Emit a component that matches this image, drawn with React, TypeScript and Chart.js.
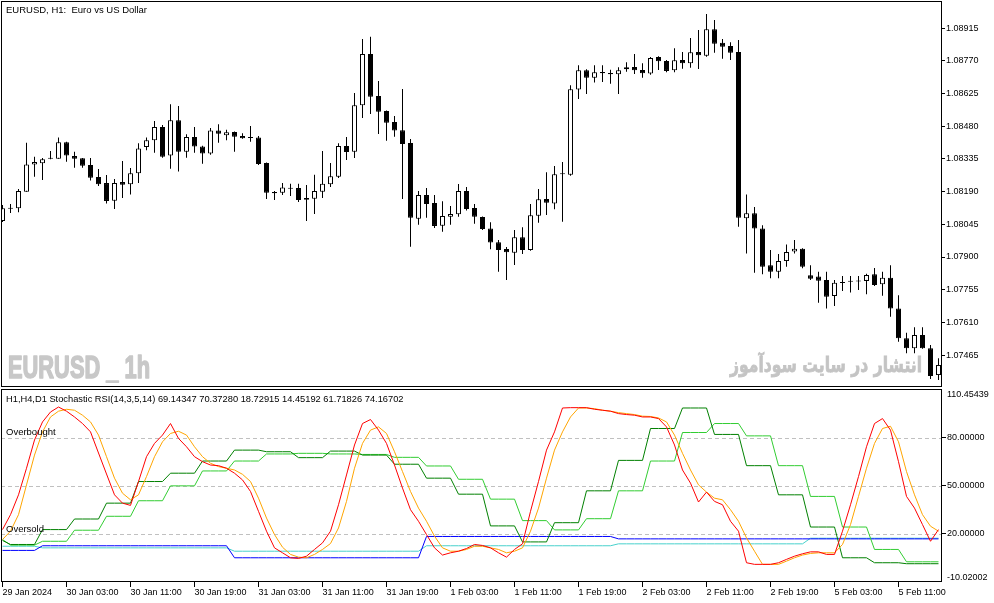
import { useEffect, useRef } from "react";
import { Chart, registerables } from "chart.js";

Chart.register(...registerables);

const FONT = "'Liberation Sans', Arial, sans-serif";
const FONT_SIZE = 9;
const TITLE_SIZE = 9.5;
const IND_TITLE_SIZE = 9.3;

const symbolTitle = "EURUSD, H1:  Euro vs US Dollar";
const indicatorTitle =
  "H1,H4,D1 Stochastic RSI(14,3,5,14) 69.14347 70.37280 18.72915 14.45192 61.71826 74.16702";
const watermarkLatin = "EURUSD _ 1h";
const watermarkPersian = "انتشار در سایت سودآموز";
const levelNames = ["Overbought", "Oversold"];

// time axis (candle index of each label)
const timeTickIndex = [0, 8, 16, 24, 32, 40, 48, 56, 64, 72, 80, 88, 96, 104, 112];
const timeTickLabels = [
  "29 Jan 2024", "30 Jan 03:00", "30 Jan 11:00", "30 Jan 19:00", "31 Jan 03:00",
  "31 Jan 11:00", "31 Jan 19:00", "1 Feb 03:00", "1 Feb 11:00", "1 Feb 19:00",
  "2 Feb 03:00", "2 Feb 11:00", "2 Feb 19:00", "5 Feb 03:00", "5 Feb 11:00",
];

// price axis
const priceTicks = [1.07465, 1.0761, 1.07755, 1.079, 1.08045, 1.0819, 1.08335, 1.0848, 1.08625, 1.0877, 1.08915];
const priceMin = 1.073231;
const priceMax = 1.090362;

// EURUSD H1 candles (29 Jan 19:00 .. 5 Feb 16:00)
const opens = [
  1.0806, 1.08116, 1.08116, 1.0819, 1.08311, 1.08316, 1.08338, 1.08336, 1.08409, 1.08348,
  1.08338, 1.08308, 1.08255, 1.08228, 1.0815, 1.08233, 1.08223, 1.08272, 1.08388, 1.08418,
  1.08477, 1.08351, 1.08507, 1.08367, 1.08433, 1.08391, 1.08359, 1.08462, 1.0844, 1.08455,
  1.08437, 1.08433, 1.0843, 1.08317, 1.08189, 1.08185, 1.08205, 1.08206, 1.08162, 1.08159,
  1.0819, 1.08223, 1.08256, 1.08393, 1.08367, 1.08573, 1.08801, 1.08615, 1.08548, 1.08499,
  1.08463, 1.08406, 1.0807, 1.08175, 1.0814, 1.08039, 1.08079, 1.0809, 1.08193, 1.08118,
  1.08078, 1.08027, 1.07965, 1.07936, 1.07919, 1.07988, 1.07931, 1.08083, 1.08157, 1.08137,
  1.08269, 1.08265, 1.08643, 1.08729, 1.08696, 1.08721, 1.08717, 1.08711, 1.08733, 1.08743,
  1.0873, 1.08714, 1.08788, 1.0877, 1.08729, 1.08774, 1.0876, 1.0881, 1.08793, 1.08911,
  1.08851, 1.08836, 1.0881, 1.08072, 1.08094, 1.08026, 1.07863, 1.07835, 1.07882, 1.07925,
  1.07937, 1.07819, 1.07813, 1.07798, 1.07727, 1.07787, 1.07792, 1.07793, 1.07794, 1.07823,
  1.07779, 1.07808, 1.07672, 1.07539, 1.07495, 1.07554, 1.07495, 1.07376,
];
const highs = [
  1.08131, 1.08135, 1.08202, 1.08407, 1.08345, 1.08339, 1.08371, 1.0843, 1.08412, 1.08367,
  1.08339, 1.08339, 1.08291, 1.08264, 1.08246, 1.08326, 1.08295, 1.08405, 1.0843, 1.08504,
  1.08486, 1.08578, 1.0857, 1.08445, 1.08477, 1.08394, 1.08473, 1.08489, 1.08465, 1.08457,
  1.08449, 1.08481, 1.08437, 1.08319, 1.08193, 1.08228, 1.08225, 1.08225, 1.0822, 1.08265,
  1.08371, 1.08317, 1.08405, 1.08433, 1.08628, 1.08868, 1.08878, 1.08681, 1.0855, 1.08526,
  1.08646, 1.08424, 1.08193, 1.08206, 1.08175, 1.08148, 1.08126, 1.08224, 1.08211, 1.08135,
  1.0808, 1.08054, 1.07975, 1.07944, 1.0802, 1.08032, 1.08135, 1.08202, 1.08276, 1.08304,
  1.08322, 1.08662, 1.08751, 1.08733, 1.08751, 1.08751, 1.08731, 1.08742, 1.08764, 1.08801,
  1.0876, 1.08788, 1.08791, 1.08774, 1.08826, 1.0881, 1.08872, 1.08908, 1.08979, 1.08952,
  1.08868, 1.08853, 1.08863, 1.08177, 1.08122, 1.08041, 1.07931, 1.07913, 1.07956, 1.07975,
  1.07939, 1.07863, 1.07835, 1.07835, 1.07798, 1.07816, 1.07816, 1.07816, 1.07826, 1.07851,
  1.07835, 1.07863, 1.0773, 1.07564, 1.07588, 1.07588, 1.0751, 1.07451,
];
const lows = [
  1.08055, 1.08095, 1.08099, 1.0819, 1.08256, 1.08242, 1.08334, 1.08336, 1.08323, 1.08296,
  1.08296, 1.0824, 1.08215, 1.08137, 1.08113, 1.08162, 1.08177, 1.08228, 1.08374, 1.08363,
  1.08341, 1.08292, 1.08279, 1.08341, 1.08363, 1.08314, 1.08354, 1.08407, 1.08418, 1.08367,
  1.08425, 1.08412, 1.08308, 1.08157, 1.08153, 1.08175, 1.08171, 1.08144, 1.0806, 1.08091,
  1.08162, 1.08211, 1.08251, 1.08331, 1.08339, 1.08517, 1.08535, 1.08446, 1.08416, 1.08434,
  1.08157, 1.07946, 1.08043, 1.08074, 1.08029, 1.08012, 1.08043, 1.08079, 1.08106, 1.08048,
  1.0802, 1.07934, 1.07835, 1.07798, 1.07865, 1.07913, 1.07928, 1.08052, 1.08086, 1.08112,
  1.08057, 1.08261, 1.08601, 1.08623, 1.08674, 1.08677, 1.08669, 1.08623, 1.08722, 1.08712,
  1.08696, 1.08709, 1.0873, 1.0872, 1.0872, 1.08736, 1.0874, 1.08734, 1.08789, 1.08807,
  1.0878, 1.08774, 1.08034, 1.07916, 1.0783, 1.07823, 1.07806, 1.07806, 1.07857, 1.07916,
  1.0785, 1.07798, 1.07697, 1.07672, 1.07683, 1.07749, 1.07742, 1.07754, 1.07735, 1.07771,
  1.07728, 1.07635, 1.07524, 1.07473, 1.07473, 1.07493, 1.07359, 1.07354,
];
const closes = [
  1.08116, 1.08114, 1.08193, 1.08311, 1.08322, 1.08334, 1.08336, 1.08409, 1.08351, 1.08336,
  1.08305, 1.08252, 1.08223, 1.08149, 1.08228, 1.08221, 1.08272, 1.08382, 1.08418, 1.08477,
  1.08345, 1.08507, 1.08367, 1.08433, 1.08391, 1.08359, 1.08462, 1.08447, 1.08454, 1.08434,
  1.08427, 1.08428, 1.08313, 1.08185, 1.08183, 1.08209, 1.08203, 1.08153, 1.08154, 1.08193,
  1.08225, 1.08258, 1.08393, 1.08366, 1.08573, 1.08801, 1.08611, 1.08545, 1.08496, 1.08461,
  1.08402, 1.08074, 1.08175, 1.08135, 1.08038, 1.08082, 1.08091, 1.08193, 1.08113, 1.08079,
  1.08024, 1.07964, 1.07931, 1.07921, 1.07988, 1.07931, 1.08085, 1.08156, 1.08141, 1.08267,
  1.08267, 1.08644, 1.08729, 1.08696, 1.0872, 1.08715, 1.08711, 1.08729, 1.08742, 1.08729,
  1.08715, 1.08783, 1.08769, 1.08726, 1.08773, 1.0876, 1.08809, 1.08795, 1.08911, 1.08847,
  1.08833, 1.08807, 1.08074, 1.08094, 1.08026, 1.07857, 1.07835, 1.07882, 1.07922, 1.07937,
  1.07857, 1.07804, 1.07795, 1.07724, 1.07786, 1.07785, 1.0779, 1.07791, 1.0782, 1.07776,
  1.07808, 1.07672, 1.07539, 1.07495, 1.07554, 1.07495, 1.07372, 1.07421,
];

// Stochastic RSI panel
const stochMin = -10.02002;
const stochMax = 110.45439;
const stochLevels = [80, 50, 20];

const h1K = [
  22.7, 32, 44.4, 61, 78.6, 89.9, 96.1, 99.2, 96.6, 93,
  88.9, 83.7, 70.5, 57.4, 44.4, 39.2, 37.8, 52.7, 68.2, 76.5,
  81.7, 88.9, 79.6, 74.4, 68.2, 65.1, 63, 62.6, 61, 57.9,
  53.7, 46.5, 34.1, 21.7, 11.3, 8.2, 5.1, 4.7, 6.1, 10.3,
  14.4, 21.7, 38.2, 56.8, 75.5, 88.9, 91.4, 84.8, 76.5, 63,
  48.6, 35.1, 27.9, 19.6, 11.3, 6.8, 8.2, 9.2, 10.9, 13.4,
  12.8, 11.3, 8.2, 5.5, 10.3, 13.8, 34.1, 52.7, 72.3, 83.7,
  98.6, 98.8, 98.8, 98.8, 97.8, 97.2, 96.6, 95.1, 94.5, 94.1,
  93, 93, 92, 86.8, 75.5, 59.9, 51.7, 39.9, 46.1, 40.3,
  38.2, 27.9, 21.7, 2, 1, 1, 1, 2, 4.1, 6.1,
  7.6, 8.8, 8.8, 7.2, 7.2, 21.7, 38.2, 55.8, 74.4, 88.9,
  92, 84.8, 65.1, 43.4, 36.1, 25.8, 15.4, 22.7,
];
const h1D = [
  16.5, 21.7, 32, 50.6, 69.2, 83.7, 93, 96.6, 97.8, 97.2,
  94.1, 89.9, 81.7, 68.2, 54.8, 45.4, 41.3, 44.4, 55.8, 68.2,
  77.5, 82.7, 84.1, 81.7, 74.4, 68.2, 64.1, 62, 61, 59.9,
  57.2, 52.7, 42.3, 29.9, 19.6, 11.7, 7.2, 5.5, 5.1, 7.2,
  10.3, 14, 23.7, 40.3, 61, 76.5, 84.8, 86.8, 82.7, 71.3,
  58.9, 46.5, 36.1, 27.9, 18.6, 11.3, 9.2, 9.2, 10.3, 12.3,
  12.3, 11.3, 10.3, 8.2, 9.2, 11.3, 21.7, 36.1, 54.8, 72.3,
  83.7, 93, 98.6, 98.6, 98.2, 97.2, 96.6, 95.7, 95.1, 94.5,
  93.5, 93.3, 92.4, 89.9, 81.7, 70.3, 59.9, 50.6, 46.1, 42.3,
  41.3, 35.1, 27.9, 17.5, 9.2, 1, 1, 1, 3, 5.1,
  6.8, 7.8, 8.2, 8.2, 8.2, 13.4, 25.8, 43.4, 61, 76.5,
  85.8, 87.2, 77.5, 58.9, 44.4, 32, 24.8, 21.7,
];
const h4K = [
  15.9,
  13.4, 13.4, 13.4, 13.4, 22.7, 22.7, 22.7, 22.7, 29.3, 29.3, 29.3, 29.3,
  39.2, 39.2, 39.2, 39.2, 52.7, 52.7, 52.7, 52.7, 57.9, 57.9, 57.9, 57.9,
  65.5, 65.5, 65.5, 65.5, 72.3, 72.3, 72.3, 72.3, 71.3, 71.3, 71.3, 71.3,
  67.6, 67.6, 67.6, 67.6, 71.7, 71.7, 71.7, 71.7, 69.2, 69.2, 69.2, 69.2,
  63.5, 63.5, 63.5, 63.5, 54.8, 54.8, 54.8, 54.8, 44.8, 44.8, 44.8, 44.8,
  25, 25, 25, 25, 15, 15, 15, 15, 27, 27, 27, 27,
  46.9, 46.9, 46.9, 46.9, 65.9, 65.9, 65.9, 65.9, 85.8, 85.8, 85.8, 85.8,
  98.6, 98.6, 98.6, 98.6, 82.1, 82.1, 82.1, 82.1, 62.6, 62.6, 62.6, 62.6,
  44.4, 44.4, 44.4, 44.4, 24.3, 24.3, 24.3, 24.3, 5.1, 5.1, 5.1, 5.1,
  2, 2, 2, 2,
  1.4, 1.4, 1.4, 1.4, 1.4,
];
const h4D = [
  16.5,
  13, 13, 13, 13, 15.4, 15.4, 15.4, 15.4, 22.3, 22.3, 22.3, 22.3,
  31, 31, 31, 31, 40.7, 40.7, 40.7, 40.7, 50, 50, 50, 50,
  59.3, 59.3, 59.3, 59.3, 65.5, 65.5, 65.5, 65.5, 69.9, 69.9, 69.9, 69.9,
  70.3, 70.3, 70.3, 70.3, 69.9, 69.9, 69.9, 69.9, 69.6, 69.6, 69.6, 69.6,
  67.8, 67.8, 67.8, 67.8, 62.4, 62.4, 62.4, 62.4, 54.1, 54.1, 54.1, 54.1,
  41.7, 41.7, 41.7, 41.7, 28.3, 28.3, 28.3, 28.3, 22.5, 22.5, 22.5, 22.5,
  29.5, 29.5, 29.5, 29.5, 46.9, 46.9, 46.9, 46.9, 65.5, 65.5, 65.5, 65.5,
  83.3, 83.3, 83.3, 83.3, 88.9, 88.9, 88.9, 88.9, 81.2, 81.2, 81.2, 81.2,
  62.6, 62.6, 62.6, 62.6, 43.4, 43.4, 43.4, 43.4, 24.3, 24.3, 24.3, 24.3,
  10.3, 10.3, 10.3, 10.3,
  2.6, 2.6, 2.6, 2.6, 2.6,
];
const d1K = [
  9.7, 9.7, 9.7, 9.7, 9.7,
  12.6, 12.6, 12.6, 12.6, 12.6, 12.6, 12.6, 12.6, 12.6, 12.6, 12.6, 12.6,
  12.6, 12.6, 12.6, 12.6, 12.6, 12.6, 12.6, 12.6, 12.6, 12.6, 12.6, 12.6,
  5.1, 5.1, 5.1, 5.1, 5.1, 5.1, 5.1, 5.1, 5.1, 5.1, 5.1, 5.1,
  5.1, 5.1, 5.1, 5.1, 5.1, 5.1, 5.1, 5.1, 5.1, 5.1, 5.1, 5.1,
  18.4, 18.4, 18.4, 18.4, 18.4, 18.4, 18.4, 18.4, 18.4, 18.4, 18.4, 18.4,
  18.4, 18.4, 18.4, 18.4, 18.4, 18.4, 18.4, 18.4, 18.4, 18.4, 18.4, 18.4,
  16.9, 16.9, 16.9, 16.9, 16.9, 16.9, 16.9, 16.9, 16.9, 16.9, 16.9, 16.9,
  16.9, 16.9, 16.9, 16.9, 16.9, 16.9, 16.9, 16.9, 16.9, 16.9, 16.9, 16.9,
  16.9, 16.9, 16.9, 16.9, 16.9, 16.9, 16.9, 16.9, 16.9,
  16.9, 16.9, 16.9, 16.9, 16.9, 16.9, 16.9, 16.9,
];
const d1D = [
  12.3, 12.3, 12.3, 12.3, 12.3,
  11.3, 11.3, 11.3, 11.3, 11.3, 11.3, 11.3, 11.3, 11.3, 11.3, 11.3, 11.3,
  11.3, 11.3, 11.3, 11.3, 11.3, 11.3, 11.3, 11.3, 11.3, 11.3, 11.3, 11.3,
  9.2, 9.2, 9.2, 9.2, 9.2, 9.2, 9.2, 9.2, 9.2, 9.2, 9.2, 9.2,
  9.2, 9.2, 9.2, 9.2, 9.2, 9.2, 9.2, 9.2, 9.2, 9.2, 9.2, 9.2,
  12.6, 12.6, 12.6, 12.6, 12.6, 12.6, 12.6, 12.6, 12.6, 12.6, 12.6, 12.6,
  12.6, 12.6, 12.6, 12.6, 12.6, 12.6, 12.6, 12.6, 12.6, 12.6, 12.6, 12.6,
  13.8, 13.8, 13.8, 13.8, 13.8, 13.8, 13.8, 13.8, 13.8, 13.8, 13.8, 13.8,
  13.8, 13.8, 13.8, 13.8, 13.8, 13.8, 13.8, 13.8, 13.8, 13.8, 13.8, 13.8,
  17.3, 17.3, 17.3, 17.3, 17.3, 17.3, 17.3, 17.3, 17.3,
  17.3, 17.3, 17.3, 17.3, 17.3, 17.3, 17.3, 17.3,
];

// ---------- layout ----------
const W = 994;
const MAIN_H = 388;
const SUB_H = 215;
const AXIS_W = 52;
const X_MIN = -0.1875;
const X_MAX = 117.4375;
const font = { family: FONT, size: FONT_SIZE };
const titleFont = `${TITLE_SIZE}px ${FONT}`;
const indTitleFont = `${IND_TITLE_SIZE}px ${FONT}`;

const noPad = (s: any) => {
  s.paddingTop = 0;
  s.paddingBottom = 0;
  s.paddingLeft = 0;
  s.paddingRight = 0;
};

const framePlugin = {
  id: "frame",
  afterDraw(chart: any) {
    const { ctx, chartArea: a } = chart;
    ctx.save();
    ctx.strokeStyle = "#000";
    ctx.lineWidth = 1;
    ctx.strokeRect(a.left + 0.5, a.top + 0.5, a.right - a.left - 1, a.bottom - a.top - 1);
    ctx.restore();
  },
};

const mainDecor = {
  id: "mainDecor",
  beforeDatasetsDraw(chart: any) {
    const { ctx, chartArea: a } = chart;
    ctx.save();
    ctx.fillStyle = "#C8C8C8";
    ctx.strokeStyle = "#C8C8C8";
    ctx.lineWidth = 1.6;
    ctx.lineJoin = "round";
    ctx.textAlign = "left";
    ctx.textBaseline = "alphabetic";
    ctx.font = "bold 32px 'Liberation Sans Narrow', 'Liberation Sans', sans-serif";
    const w1 = ctx.measureText(watermarkLatin).width;
    ctx.translate(a.left + 7, 378);
    ctx.scale(142 / w1, 1);
    ctx.fillText(watermarkLatin, 0, 0);
    ctx.strokeText(watermarkLatin, 0, 0);
    ctx.restore();

    ctx.save();
    ctx.fillStyle = "#C4C4C4";
    ctx.strokeStyle = "#C4C4C4";
    ctx.lineWidth = 0.8;
    ctx.font = "bold 21px 'DejaVu Sans', sans-serif";
    (ctx as any).direction = "rtl";
    ctx.textAlign = "left";
    ctx.textBaseline = "alphabetic";
    const w2 = ctx.measureText(watermarkPersian).width;
    ctx.translate(730, 372);
    ctx.scale(192 / w2, 1);
    ctx.fillText(watermarkPersian, 0, 0);
    ctx.strokeText(watermarkPersian, 0, 0);
    ctx.restore();
  },
  afterDraw(chart: any) {
    const { ctx } = chart;
    ctx.save();
    ctx.fillStyle = "#000";
    ctx.font = titleFont;
    ctx.textAlign = "left";
    ctx.textBaseline = "alphabetic";
    ctx.fillText(symbolTitle, 6, 13);
    ctx.restore();
  },
};

const subDecor = {
  id: "subDecor",
  beforeDatasetsDraw(chart: any) {
    const { ctx, chartArea: a, scales } = chart;
    ctx.save();
    ctx.strokeStyle = "#C0C0C0";
    ctx.lineWidth = 1;
    ctx.setLineDash([4, 3]);
    stochLevels.forEach((lv) => {
      const y = Math.round(scales.y.getPixelForValue(lv)) + 0.5;
      ctx.beginPath();
      ctx.moveTo(a.left, y);
      ctx.lineTo(a.right, y);
      ctx.stroke();
    });
    ctx.restore();
  },
  afterDraw(chart: any) {
    const { ctx, chartArea: a, scales } = chart;
    ctx.save();
    ctx.fillStyle = "#000";
    ctx.textAlign = "left";
    ctx.textBaseline = "alphabetic";
    ctx.font = indTitleFont;
    ctx.fillText(indicatorTitle, 6, 14);
    ctx.font = titleFont;
    ctx.fillText(levelNames[0], 6, scales.y.getPixelForValue(stochLevels[0]) - 3);
    ctx.fillText(levelNames[1], 6, scales.y.getPixelForValue(stochLevels[2]) - 2);
    ctx.font = `${FONT_SIZE}px ${FONT}`;
    ctx.textBaseline = "middle";
    ctx.fillText(stochMax.toFixed(5), a.right + 5, scales.y.getPixelForValue(stochMax) + 6);
    ctx.fillText(stochMin.toFixed(5), a.right + 5, scales.y.getPixelForValue(stochMin) - 4);
    ctx.restore();
  },
};

function mainConfig(): any {
  const idx = opens.map((_, i) => i);
  return {
    type: "bar",
    data: {
      datasets: [
        {
          data: idx.map((i) => ({ x: i, y: [opens[i], closes[i]] })),
          backgroundColor: idx.map((i) => (closes[i] >= opens[i] ? "#FFFFFF" : "#000000")),
          borderColor: "#000000",
          borderWidth: 1,
          borderSkipped: false,
          barThickness: 5,
          minBarLength: 1,
          grouped: false,
          inflateAmount: 0,
          order: 0,
        },
        {
          data: idx.map((i) => ({ x: i, y: [lows[i], highs[i]] })),
          backgroundColor: "#000000",
          borderWidth: 0,
          barThickness: 1,
          grouped: false,
          inflateAmount: 0,
          order: 1,
        },
      ],
    },
    options: {
      animation: false,
      responsive: false,
      events: [],
      layout: { padding: { left: 1, top: 1, right: 0, bottom: 1 } },
      plugins: { legend: { display: false }, tooltip: { enabled: false } },
      scales: {
        x: { type: "linear", min: X_MIN, max: X_MAX, display: false, offset: false, afterFit: noPad },
        y: {
          position: "right",
          min: priceMin,
          max: priceMax,
          afterBuildTicks: (s: any) => {
            s.ticks = priceTicks.map((v) => ({ value: v }));
          },
          afterFit: (s: any) => {
            s.width = AXIS_W;
            noPad(s);
          },
          ticks: {
            color: "#000",
            font,
            padding: 1,
            callback: (v: any) => Number(v).toFixed(5),
          },
          grid: { drawOnChartArea: false, drawTicks: true, tickLength: 3, color: "#000" },
          border: { display: false },
        },
      },
    },
    plugins: [mainDecor, framePlugin],
  };
}

function subConfig(): any {
  const pts = (arr: number[]) => arr.map((v, i) => ({ x: i, y: v }));
  const line = (arr: number[], color: string) => ({
    data: pts(arr),
    borderColor: color,
    backgroundColor: color,
    borderWidth: 1,
    pointRadius: 0,
    tension: 0,
    fill: false,
  });
  return {
    type: "line",
    data: {
      datasets: [
        line(h1K, "#FF0000"),
        line(h1D, "#FFA500"),
        line(h4K, "#008000"),
        line(h4D, "#32CD32"),
        line(d1K, "#0000FF"),
        line(d1D, "#48D1CC"),
      ],
    },
    options: {
      animation: false,
      responsive: false,
      events: [],
      layout: { padding: { left: 1, top: 1, right: 0, bottom: 0 } },
      plugins: { legend: { display: false }, tooltip: { enabled: false } },
      scales: {
        x: {
          type: "linear",
          position: "bottom",
          min: X_MIN,
          max: X_MAX,
          offset: false,
          afterBuildTicks: (s: any) => {
            s.ticks = timeTickIndex.map((v) => ({ value: v }));
          },
          afterFit: (s: any) => {
            s.height = 21;
            noPad(s);
          },
          ticks: {
            autoSkip: false,
            maxRotation: 0,
            minRotation: 0,
            align: "start",
            padding: 0,
            color: "#000",
            font,
            callback: (v: any) => {
              const k = timeTickIndex.indexOf(Number(v));
              return k >= 0 ? timeTickLabels[k] : "";
            },
          },
          grid: { drawOnChartArea: false, drawTicks: true, tickLength: 5, color: "#000" },
          border: { display: false },
        },
        y: {
          position: "right",
          min: stochMin,
          max: stochMax,
          afterBuildTicks: (s: any) => {
            s.ticks = stochLevels.map((v) => ({ value: v }));
          },
          afterFit: (s: any) => {
            s.width = AXIS_W;
            noPad(s);
          },
          ticks: {
            color: "#000",
            font,
            padding: 1,
            callback: (v: any) => Number(v).toFixed(5),
          },
          grid: { drawOnChartArea: false, drawTicks: true, tickLength: 4, color: "#000" },
          border: { display: false },
        },
      },
    },
    plugins: [subDecor, framePlugin],
  };
}

export default function App() {
  const mainRef = useRef<HTMLCanvasElement>(null);
  const subRef = useRef<HTMLCanvasElement>(null);

  useEffect(() => {
    const main = new Chart(mainRef.current as HTMLCanvasElement, mainConfig());
    const sub = new Chart(subRef.current as HTMLCanvasElement, subConfig());
    return () => {
      main.destroy();
      sub.destroy();
    };
  }, []);

  return (
    <div
      style={{
        position: "absolute",
        left: 0,
        top: 0,
        width: W,
        height: MAIN_H + SUB_H,
        background: "#FFFFFF",
        overflow: "hidden",
      }}
    >
      <canvas ref={mainRef} width={W} height={MAIN_H} style={{ position: "absolute", left: 0, top: 0 }} />
      <canvas ref={subRef} width={W} height={SUB_H} style={{ position: "absolute", left: 0, top: MAIN_H }} />
    </div>
  );
}
